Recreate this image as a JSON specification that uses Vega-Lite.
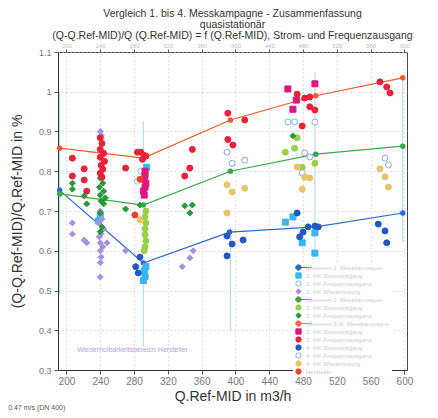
{
  "$schema": "https://vega.github.io/schema/vega-lite/v6.json",
  "width": 349,
  "height": 318,
  "autosize": "none",
  "padding": {"left": 58, "top": 52, "right": 31, "bottom": 48},
  "background": "white",
  "title": {
    "text": ["Vergleich 1. bis 4. Messkampagne - Zusammenfassung", "quasistationär", "(Q-Q.Ref-MID)/Q (Q.Ref-MID) = f (Q.Ref-MID), Strom- und Frequenzausgang"],
    "anchor": "middle",
    "font": "Liberation Sans",
    "fontSize": 10.5,
    "fontWeight": "normal",
    "color": "#333333",
    "lineHeight": 11,
    "offset": 1
  },
  "config": {
    "view": {"stroke": "#444444", "strokeWidth": 1},
    "font": "Liberation Sans",
    "axis": {
      "labelFont": "Liberation Sans",
      "titleFont": "Liberation Sans",
      "labelColor": "#777777",
      "tickColor": "#555555",
      "domainColor": "#333333",
      "titleColor": "#333333",
      "titleFontWeight": "normal",
      "gridColor": "#c4c4c4",
      "gridDash": [1, 3],
      "tickSize": 4,
      "labelOverlap": false
    },
    "legend": {
      "orient": "none",
      "legendX": 235,
      "legendY": 210,
      "fillColor": "white",
      "padding": 2,
      "labelFontSize": 6,
      "labelColor": "#cccccc",
      "labelLimit": 110,
      "symbolSize": 28,
      "symbolStrokeWidth": 1,
      "rowPadding": 1,
      "clipHeight": 7,
      "labelOffset": 4
    }
  },
  "datasets": {
    "means": [
      {"series": "Mittelwert 1. Messkampagne", "q": 192, "v": 0.752},
      {"series": "Mittelwert 1. Messkampagne", "q": 291, "v": 0.569},
      {"series": "Mittelwert 1. Messkampagne", "q": 393, "v": 0.647},
      {"series": "Mittelwert 1. Messkampagne", "q": 495, "v": 0.66},
      {"series": "Mittelwert 1. Messkampagne", "q": 598, "v": 0.695},
      {"series": "Mittelwert 2. Messkampagne", "q": 192, "v": 0.743},
      {"series": "Mittelwert 2. Messkampagne", "q": 291, "v": 0.715},
      {"series": "Mittelwert 2. Messkampagne", "q": 394, "v": 0.8},
      {"series": "Mittelwert 2. Messkampagne", "q": 495, "v": 0.843},
      {"series": "Mittelwert 2. Messkampagne", "q": 598, "v": 0.863},
      {"series": "Mittelwert 3./4. Messkampagne", "q": 192, "v": 0.858},
      {"series": "Mittelwert 3./4. Messkampagne", "q": 291, "v": 0.833},
      {"series": "Mittelwert 3./4. Messkampagne", "q": 394, "v": 0.929},
      {"series": "Mittelwert 3./4. Messkampagne", "q": 495, "v": 0.99},
      {"series": "Mittelwert 3./4. Messkampagne", "q": 598, "v": 1.035}
    ],
    "ranges": [
      {"q": 192, "lo": 0.49, "hi": 1.0},
      {"q": 291, "lo": 0.36, "hi": 0.55},
      {"q": 291, "lo": 0.835, "hi": 0.926},
      {"q": 394, "lo": 0.4, "hi": 0.66},
      {"q": 494, "lo": 0.59, "hi": 1.05},
      {"q": 598, "lo": 0.62, "hi": 1.03}
    ],
    "pts": [
      {"series": "1. MK Stromausgang", "q": 240, "v": 0.69},
      {"series": "1. MK Stromausgang", "q": 238, "v": 0.675},
      {"series": "1. MK Stromausgang", "q": 295, "v": 0.81},
      {"series": "1. MK Stromausgang", "q": 292, "v": 0.55},
      {"series": "1. MK Stromausgang", "q": 293, "v": 0.535},
      {"series": "1. MK Stromausgang", "q": 291, "v": 0.525},
      {"series": "1. MK Stromausgang", "q": 294, "v": 0.56},
      {"series": "1. MK Stromausgang", "q": 459, "v": 0.672},
      {"series": "1. MK Stromausgang", "q": 468, "v": 0.685},
      {"series": "1. MK Stromausgang", "q": 479, "v": 0.62},
      {"series": "1. MK Stromausgang", "q": 494, "v": 0.645},
      {"series": "1. MK Stromausgang", "q": 494, "v": 0.594},
      {"series": "1. MK Frequenzausgang", "q": 288, "v": 0.8},
      {"series": "1. MK Frequenzausgang", "q": 284, "v": 0.775},
      {"series": "1. MK Frequenzausgang", "q": 462, "v": 0.924},
      {"series": "1. MK Frequenzausgang", "q": 470, "v": 0.924},
      {"series": "1. MK Frequenzausgang", "q": 494, "v": 0.924},
      {"series": "1. MK Wiederholung", "q": 240, "v": 0.9},
      {"series": "1. MK Wiederholung", "q": 241, "v": 0.89},
      {"series": "1. MK Wiederholung", "q": 240, "v": 0.7},
      {"series": "1. MK Wiederholung", "q": 242, "v": 0.68},
      {"series": "1. MK Wiederholung", "q": 238, "v": 0.67},
      {"series": "1. MK Wiederholung", "q": 244, "v": 0.655},
      {"series": "1. MK Wiederholung", "q": 241, "v": 0.643},
      {"series": "1. MK Wiederholung", "q": 239, "v": 0.635},
      {"series": "1. MK Wiederholung", "q": 240, "v": 0.62},
      {"series": "1. MK Wiederholung", "q": 248, "v": 0.62},
      {"series": "1. MK Wiederholung", "q": 243, "v": 0.61},
      {"series": "1. MK Wiederholung", "q": 240, "v": 0.6},
      {"series": "1. MK Wiederholung", "q": 241, "v": 0.584},
      {"series": "1. MK Wiederholung", "q": 240, "v": 0.57},
      {"series": "1. MK Wiederholung", "q": 240, "v": 0.534},
      {"series": "1. MK Wiederholung", "q": 207, "v": 0.67},
      {"series": "1. MK Wiederholung", "q": 207, "v": 0.642},
      {"series": "1. MK Wiederholung", "q": 221, "v": 0.627},
      {"series": "1. MK Wiederholung", "q": 224, "v": 0.62},
      {"series": "1. MK Wiederholung", "q": 270, "v": 0.6},
      {"series": "1. MK Wiederholung", "q": 337, "v": 0.56},
      {"series": "1. MK Wiederholung", "q": 346, "v": 0.582},
      {"series": "1. MK Wiederholung", "q": 350, "v": 0.6},
      {"series": "2. MK Stromausgang", "q": 294, "v": 0.7},
      {"series": "2. MK Stromausgang", "q": 293, "v": 0.685},
      {"series": "2. MK Stromausgang", "q": 294, "v": 0.67},
      {"series": "2. MK Stromausgang", "q": 293, "v": 0.655},
      {"series": "2. MK Stromausgang", "q": 293, "v": 0.64},
      {"series": "2. MK Stromausgang", "q": 294, "v": 0.625},
      {"series": "2. MK Stromausgang", "q": 293, "v": 0.61},
      {"series": "2. MK Stromausgang", "q": 292, "v": 0.6},
      {"series": "2. MK Stromausgang", "q": 473, "v": 0.884},
      {"series": "2. MK Stromausgang", "q": 459, "v": 0.848},
      {"series": "2. MK Stromausgang", "q": 470, "v": 0.858},
      {"series": "2. MK Stromausgang", "q": 479, "v": 0.81},
      {"series": "2. MK Stromausgang", "q": 494, "v": 0.82},
      {"series": "2. MK Frequenzausgang", "q": 240, "v": 0.783},
      {"series": "2. MK Frequenzausgang", "q": 243, "v": 0.77},
      {"series": "2. MK Frequenzausgang", "q": 239, "v": 0.76},
      {"series": "2. MK Frequenzausgang", "q": 244, "v": 0.75},
      {"series": "2. MK Frequenzausgang", "q": 240, "v": 0.74},
      {"series": "2. MK Frequenzausgang", "q": 246, "v": 0.733},
      {"series": "2. MK Frequenzausgang", "q": 241, "v": 0.725},
      {"series": "2. MK Frequenzausgang", "q": 244, "v": 0.718},
      {"series": "2. MK Frequenzausgang", "q": 240, "v": 0.695},
      {"series": "2. MK Frequenzausgang", "q": 242, "v": 0.66},
      {"series": "2. MK Frequenzausgang", "q": 240, "v": 0.648},
      {"series": "2. MK Frequenzausgang", "q": 207, "v": 0.77},
      {"series": "2. MK Frequenzausgang", "q": 207, "v": 0.755},
      {"series": "2. MK Frequenzausgang", "q": 221, "v": 0.738},
      {"series": "2. MK Frequenzausgang", "q": 224, "v": 0.718},
      {"series": "2. MK Frequenzausgang", "q": 270, "v": 0.705},
      {"series": "2. MK Frequenzausgang", "q": 287, "v": 0.715},
      {"series": "2. MK Frequenzausgang", "q": 340, "v": 0.713},
      {"series": "2. MK Frequenzausgang", "q": 349, "v": 0.715},
      {"series": "2. MK Frequenzausgang", "q": 346, "v": 0.695},
      {"series": "2. MK Frequenzausgang", "q": 468, "v": 0.889},
      {"series": "3. MK Stromausgang", "q": 293, "v": 0.8},
      {"series": "3. MK Stromausgang", "q": 293, "v": 0.79},
      {"series": "3. MK Stromausgang", "q": 292, "v": 0.78},
      {"series": "3. MK Stromausgang", "q": 294, "v": 0.77},
      {"series": "3. MK Stromausgang", "q": 293, "v": 0.76},
      {"series": "3. MK Stromausgang", "q": 291, "v": 0.75},
      {"series": "3. MK Stromausgang", "q": 292, "v": 0.74},
      {"series": "3. MK Stromausgang", "q": 462, "v": 1.007},
      {"series": "3. MK Stromausgang", "q": 494, "v": 1.02},
      {"series": "3. MK Stromausgang", "q": 472, "v": 0.979},
      {"series": "3. MK Stromausgang", "q": 468, "v": 0.956},
      {"series": "3. MK Frequenzausgang", "q": 240, "v": 0.884},
      {"series": "3. MK Frequenzausgang", "q": 242, "v": 0.87},
      {"series": "3. MK Frequenzausgang", "q": 240, "v": 0.855},
      {"series": "3. MK Frequenzausgang", "q": 244, "v": 0.845},
      {"series": "3. MK Frequenzausgang", "q": 240, "v": 0.835},
      {"series": "3. MK Frequenzausgang", "q": 245, "v": 0.825},
      {"series": "3. MK Frequenzausgang", "q": 241, "v": 0.815},
      {"series": "3. MK Frequenzausgang", "q": 243, "v": 0.805},
      {"series": "3. MK Frequenzausgang", "q": 240, "v": 0.795},
      {"series": "3. MK Frequenzausgang", "q": 242, "v": 0.785},
      {"series": "3. MK Frequenzausgang", "q": 207, "v": 0.833},
      {"series": "3. MK Frequenzausgang", "q": 207, "v": 0.788},
      {"series": "3. MK Frequenzausgang", "q": 221, "v": 0.806},
      {"series": "3. MK Frequenzausgang", "q": 221, "v": 0.778},
      {"series": "3. MK Frequenzausgang", "q": 224, "v": 0.75},
      {"series": "3. MK Frequenzausgang", "q": 270, "v": 0.808},
      {"series": "3. MK Frequenzausgang", "q": 284, "v": 0.848},
      {"series": "3. MK Frequenzausgang", "q": 288, "v": 0.848},
      {"series": "3. MK Frequenzausgang", "q": 292, "v": 0.84},
      {"series": "3. MK Frequenzausgang", "q": 290, "v": 0.83},
      {"series": "3. MK Frequenzausgang", "q": 294, "v": 0.838},
      {"series": "3. MK Frequenzausgang", "q": 349, "v": 0.855},
      {"series": "3. MK Frequenzausgang", "q": 346, "v": 0.808},
      {"series": "3. MK Frequenzausgang", "q": 340, "v": 0.788},
      {"series": "3. MK Frequenzausgang", "q": 391, "v": 0.946},
      {"series": "3. MK Frequenzausgang", "q": 411, "v": 0.929},
      {"series": "3. MK Frequenzausgang", "q": 391, "v": 0.88},
      {"series": "3. MK Frequenzausgang", "q": 397, "v": 0.866},
      {"series": "3. MK Frequenzausgang", "q": 473, "v": 0.994},
      {"series": "3. MK Frequenzausgang", "q": 482, "v": 0.984},
      {"series": "3. MK Frequenzausgang", "q": 488, "v": 0.987},
      {"series": "3. MK Frequenzausgang", "q": 488, "v": 0.962},
      {"series": "3. MK Frequenzausgang", "q": 494, "v": 0.954},
      {"series": "3. MK Frequenzausgang", "q": 479, "v": 0.914},
      {"series": "3. MK Frequenzausgang", "q": 571, "v": 1.025},
      {"series": "3. MK Frequenzausgang", "q": 579, "v": 1.012},
      {"series": "3. MK Frequenzausgang", "q": 583, "v": 0.997},
      {"series": "4. MK Stromausgang", "q": 287, "v": 0.584},
      {"series": "4. MK Stromausgang", "q": 282, "v": 0.56},
      {"series": "4. MK Stromausgang", "q": 285, "v": 0.544},
      {"series": "4. MK Stromausgang", "q": 390, "v": 0.637},
      {"series": "4. MK Stromausgang", "q": 396, "v": 0.617},
      {"series": "4. MK Stromausgang", "q": 409, "v": 0.627},
      {"series": "4. MK Stromausgang", "q": 390, "v": 0.587},
      {"series": "4. MK Stromausgang", "q": 473, "v": 0.695},
      {"series": "4. MK Stromausgang", "q": 486, "v": 0.66},
      {"series": "4. MK Stromausgang", "q": 480, "v": 0.647},
      {"series": "4. MK Stromausgang", "q": 476, "v": 0.635},
      {"series": "4. MK Stromausgang", "q": 494, "v": 0.662},
      {"series": "4. MK Stromausgang", "q": 498, "v": 0.66},
      {"series": "4. MK Stromausgang", "q": 569, "v": 0.667},
      {"series": "4. MK Stromausgang", "q": 577, "v": 0.65},
      {"series": "4. MK Stromausgang", "q": 579, "v": 0.62},
      {"series": "4. MK Frequenzausgang", "q": 390, "v": 0.848},
      {"series": "4. MK Frequenzausgang", "q": 396, "v": 0.82},
      {"series": "4. MK Frequenzausgang", "q": 411, "v": 0.828},
      {"series": "4. MK Frequenzausgang", "q": 482, "v": 0.846},
      {"series": "4. MK Frequenzausgang", "q": 488, "v": 0.836},
      {"series": "4. MK Frequenzausgang", "q": 479, "v": 0.796},
      {"series": "4. MK Frequenzausgang", "q": 577, "v": 0.833},
      {"series": "4. MK Frequenzausgang", "q": 581, "v": 0.816},
      {"series": "4. MK Wiederholung", "q": 287, "v": 0.678},
      {"series": "4. MK Wiederholung", "q": 390, "v": 0.766},
      {"series": "4. MK Wiederholung", "q": 396, "v": 0.748},
      {"series": "4. MK Wiederholung", "q": 411, "v": 0.757},
      {"series": "4. MK Wiederholung", "q": 390, "v": 0.695},
      {"series": "4. MK Wiederholung", "q": 473, "v": 0.811},
      {"series": "4. MK Wiederholung", "q": 482, "v": 0.785},
      {"series": "4. MK Wiederholung", "q": 488, "v": 0.783},
      {"series": "4. MK Wiederholung", "q": 479, "v": 0.755},
      {"series": "4. MK Wiederholung", "q": 571, "v": 0.806},
      {"series": "4. MK Wiederholung", "q": 577, "v": 0.786},
      {"series": "4. MK Wiederholung", "q": 581, "v": 0.76},
      {"series": "Hersteller", "q": 287, "v": 0.78},
      {"series": "Hersteller", "q": 281, "v": 0.69}
    ]
  },
  "resolve": {"axis": {"x": "independent", "y": "independent"}},
  "layer": [
    {
      "data": {"name": "ranges"},
      "mark": {"type": "rule", "color": "#a8d8f0", "strokeWidth": 1},
      "encoding": {
        "x": {"field": "q", "type": "quantitative",
              "scale": {"domain": [190, 603], "nice": false, "zero": false},
              "axis": {"orient": "top", "values": [200, 240, 280, 320, 360, 400, 440, 480, 520, 560, 600],
                       "labelFontSize": 6, "labelColor": "#bbbbbb", "tickSize": 3, "grid": false,
                       "domain": false, "title": null, "labelPadding": 1}},
        "y": {"field": "lo", "type": "quantitative",
              "scale": {"domain": [0.3, 1.1], "nice": false, "zero": false},
              "axis": {"values": [0.3, 0.4, 0.5, 0.6, 0.7, 0.8, 0.9, 1.0, 1.1], "format": "~g",
                       "labelFontSize": 9, "grid": true, "title": "(Q-Q.Ref-MID)/Q.Ref-MID in %",
                       "titleFontSize": 14, "titlePadding": 14, "labelPadding": 3}},
        "y2": {"field": "hi"}
      }
    },
    {
      "data": {"name": "means"},
      "mark": {"type": "line", "strokeWidth": 1.2, "point": {"filled": true, "size": 30}},
      "encoding": {
        "x": {"field": "q", "type": "quantitative", "axis": null},
        "y": {"field": "v", "type": "quantitative", "axis": null},
        "color": {"field": "series", "type": "nominal", "legend": null,
                  "scale": {"domain": ["Mittelwert 1. Messkampagne", "Mittelwert 2. Messkampagne", "Mittelwert 3./4. Messkampagne"],
                            "range": ["#2a68d8", "#3aaa48", "#f05a30"]}}
      }
    },
    {
      "data": {"name": "pts"},
      "mark": {"type": "point", "filled": true, "strokeWidth": 1, "size": 36, "opacity": 1},
      "encoding": {
        "x": {"field": "q", "type": "quantitative",
              "axis": {"orient": "bottom", "values": [200, 240, 280, 320, 360, 400, 440, 480, 520, 560, 600],
                       "labelFontSize": 10, "grid": true, "title": "Q.Ref-MID in m3/h",
                       "titleFontSize": 14, "titlePadding": 3, "labelPadding": 2}},
        "y": {"field": "v", "type": "quantitative", "axis": null},
        "fill": {"field": "series", "type": "nominal", "title": null,
                 "scale": {"domain": ["Mittelwert 1. Messkampagne", "1. MK Stromausgang", "1. MK Frequenzausgang", "1. MK Wiederholung", "Mittelwert 2. Messkampagne", "2. MK Stromausgang", "2. MK Frequenzausgang", "Mittelwert 3./4. Messkampagne", "3. MK Stromausgang", "3. MK Frequenzausgang", "4. MK Stromausgang", "4. MK Frequenzausgang", "4. MK Wiederholung", "Hersteller"],
                           "range": ["#2a68d8", "#38b6ee", "#ffffff", "#a890e0", "#3aaa48", "#98d048", "#249a3c", "#f05a30", "#e0167c", "#ec2038", "#2058c8", "#ffffff", "#e8c468", "#f0402c"]}},
        "stroke": {"field": "series", "type": "nominal", "title": null,
                   "scale": {"domain": ["Mittelwert 1. Messkampagne", "1. MK Stromausgang", "1. MK Frequenzausgang", "1. MK Wiederholung", "Mittelwert 2. Messkampagne", "2. MK Stromausgang", "2. MK Frequenzausgang", "Mittelwert 3./4. Messkampagne", "3. MK Stromausgang", "3. MK Frequenzausgang", "4. MK Stromausgang", "4. MK Frequenzausgang", "4. MK Wiederholung", "Hersteller"],
                             "range": ["#2a68d8", "#38b6ee", "#7ab8e8", "#a890e0", "#3aaa48", "#98d048", "#249a3c", "#f08030", "#e0167c", "#ec2038", "#2058c8", "#8aa8d8", "#e8c468", "#f0402c"]}},
        "shape": {"field": "series", "type": "nominal", "title": null,
                  "scale": {"domain": ["Mittelwert 1. Messkampagne", "1. MK Stromausgang", "1. MK Frequenzausgang", "1. MK Wiederholung", "Mittelwert 2. Messkampagne", "2. MK Stromausgang", "2. MK Frequenzausgang", "Mittelwert 3./4. Messkampagne", "3. MK Stromausgang", "3. MK Frequenzausgang", "4. MK Stromausgang", "4. MK Frequenzausgang", "4. MK Wiederholung", "Hersteller"],
                            "range": ["M-5,0H5M-1,0A1,1,0,1,0,1,0A1,1,0,1,0,-1,0Z", "square", "circle", "diamond", "M-5,0H5M-1,0A1,1,0,1,0,1,0A1,1,0,1,0,-1,0Z", "circle", "diamond", "M-5,0H5M-1,0A1,1,0,1,0,1,0A1,1,0,1,0,-1,0Z", "square", "circle", "circle", "circle", "circle", "circle"]}}
      }
    },
    {
      "data": {"values": [{"q": 278, "v": 0.35, "t": "Wiederholbarkeitsbereich Hersteller"}]},
      "mark": {"type": "text", "fontSize": 7, "color": "#b4a4dc", "align": "center", "baseline": "middle"},
      "encoding": {
        "x": {"field": "q", "type": "quantitative", "axis": null},
        "y": {"field": "v", "type": "quantitative", "axis": null},
        "text": {"field": "t"}
      }
    },
    {
      "data": {"values": [{"q": 131, "v": 0.204, "t": "0.47 m/s (DN 400)"}]},
      "mark": {"type": "text", "fontSize": 7, "color": "#555555", "align": "left", "baseline": "middle"},
      "encoding": {
        "x": {"field": "q", "type": "quantitative", "axis": null},
        "y": {"field": "v", "type": "quantitative", "axis": null},
        "text": {"field": "t"}
      }
    }
  ]
}
